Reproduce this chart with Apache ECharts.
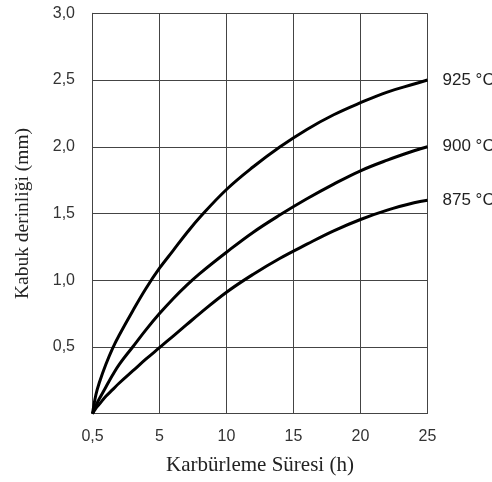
<!DOCTYPE html>
<html>
<head>
<meta charset="utf-8">
<script src="https://cdn.jsdelivr.net/npm/echarts@6/dist/echarts.min.js"></script>
<style>
html,body{margin:0;padding:0;background:#fff;}
#c{width:492px;height:482px;}
</style>
</head>
<body>
<div id="c"></div>
<script>
// Time (h) positions along the axis (leftmost gridline labelled "0,5")
const t925 = [0, 0.25, 0.5, 1, 1.5, 2, 3, 4, 5, 6, 7, 8, 10, 12, 14, 16, 18, 20, 22, 24, 25];
const d925 = [0, 0.14, 0.23, 0.37, 0.49, 0.59, 0.77, 0.94, 1.09, 1.22, 1.35, 1.47, 1.68, 1.85, 2.00, 2.13, 2.24, 2.33, 2.41, 2.47, 2.5];
const t900 = [0, 0.25, 0.5, 1, 1.5, 2, 3, 4, 5, 6, 7, 8, 10, 12, 14, 16, 18, 20, 22, 24, 25];
const d900 = [0, 0.06, 0.11, 0.20, 0.29, 0.37, 0.50, 0.63, 0.75, 0.86, 0.96, 1.05, 1.21, 1.36, 1.49, 1.61, 1.72, 1.82, 1.90, 1.97, 2.0];
const t875 = [0, 0.25, 0.5, 1, 1.5, 2, 3, 4, 5, 6, 7, 8, 10, 12, 14, 16, 18, 20, 22, 24, 25];
const d875 = [0, 0.04, 0.07, 0.13, 0.18, 0.23, 0.32, 0.41, 0.495, 0.58, 0.665, 0.75, 0.91, 1.045, 1.165, 1.27, 1.37, 1.455, 1.525, 1.58, 1.6];
const seriesNames = ['925 °C', '900 °C', '875 °C'];
const xTickLabels = {0: '0,5', 5: '5', 10: '10', 15: '15', 20: '20', 25: '25'};

function pairs(t, d) { return t.map((v, i) => [v, d[i]]); }
const dataSets = [pairs(t925, d925), pairs(t900, d900), pairs(t875, d875)];

const chart = echarts.init(document.getElementById('c'), null, {renderer: 'canvas'});
chart.setOption({
  animation: false,
  backgroundColor: '#fff',
  grid: {left: 92.5, right: 64.5, top: 13.3, bottom: 68.3, containLabel: false},
  xAxis: {
    type: 'value', min: 0, max: 25, interval: 5,
    name: 'Karbürleme Süresi (h)', nameLocation: 'middle', nameGap: 41,
    nameTextStyle: {fontFamily: 'Liberation Serif', fontSize: 21, color: '#222'},
    axisLine: {show: true, lineStyle: {color: '#444', width: 1}},
    axisTick: {show: false},
    axisLabel: {margin: 15, fontFamily: 'Liberation Sans', fontSize: 16, color: '#333',
      formatter: v => xTickLabels[v] !== undefined ? xTickLabels[v] : ''},
    splitLine: {show: true, lineStyle: {color: '#444', width: 1}}
  },
  yAxis: {
    type: 'value', min: 0, max: 3, interval: 0.5,
    name: 'Kabuk derinliği (mm)', nameLocation: 'middle', nameGap: 60,
    nameTextStyle: {fontFamily: 'Liberation Serif', fontSize: 19.5, color: '#222'},
    axisLine: {show: true, lineStyle: {color: '#444', width: 1}},
    axisTick: {show: false},
    axisLabel: {margin: 17.5, fontFamily: 'Liberation Sans', fontSize: 16, color: '#333',
      formatter: v => v === 0 ? '' : v.toFixed(1).replace('.', ',')},
    splitLine: {show: true, lineStyle: {color: '#444', width: 1}}
  },
  series: seriesNames.map((name, i) => ({
    name: name, type: 'line', data: dataSets[i], smooth: 0.4,
    showSymbol: false, symbol: 'none',
    lineStyle: {color: '#000', width: 3},
    endLabel: {show: true, formatter: name, fontFamily: 'Liberation Sans', fontSize: 17, color: '#222', distance: 15}
  }))
});
</script>
</body>
</html>
